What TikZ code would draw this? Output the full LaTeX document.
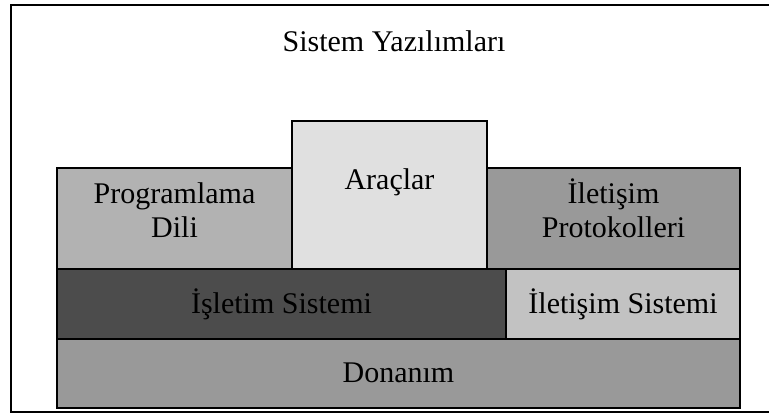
\documentclass[tikz,border=0pt]{standalone}
\usepackage{fontspec}
\setmainfont{Liberation Serif}
\begin{document}
\begin{tikzpicture}[x=1pt,y=-1pt,
  layer/.style={draw=black,line width=1.6pt,anchor=north west,inner sep=0pt,outer sep=0pt},
  caption/.style={anchor=base,inner sep=0pt,align=center,text=black,
    font=\fontsize{30}{34}\selectfont}]
\useasboundingbox (0,0) rectangle (769,414);
% outer frame, open on the right
\draw[line width=2pt,color=black] (780,5) -- (11,5) -- (11,412) -- (780,412);
% title
\node[caption] (title) at (394,52) {Sistem Yazılımları};
% layer boxes
\node[layer,fill=black!30,minimum width=235pt,minimum height=101pt] (prog) at (57,168) {};
\node[layer,fill=black!12,minimum width=195pt,minimum height=148pt] (arac) at (292,121) {};
\node[layer,fill=black!40,minimum width=253pt,minimum height=101pt] (prot) at (487,168) {};
\node[layer,fill=black!70,minimum width=449pt,minimum height=70pt] (isl) at (57,269) {};
\node[layer,fill=black!24,minimum width=234pt,minimum height=70pt] (ilet) at (506,269) {};
\node[layer,fill=black!40,minimum width=683pt,minimum height=69pt] (don) at (57,339) {};
% labels (two-line labels are anchored on the baseline of their last line)
\node[caption] (progT) at (174.5,238) {Programlama\\Dili};
\node[caption] (aracT) at (389.5,190) {Araçlar};
\node[caption] (protT) at (613.5,238) {İletişim\\Protokolleri};
\node[caption] (islT) at (281.5,313) {İşletim Sistemi};
\node[caption] (iletT) at (623,313) {İletişim Sistemi};
\node[caption] (donT) at (398.5,382) {Donanım};
\end{tikzpicture}
\end{document}
